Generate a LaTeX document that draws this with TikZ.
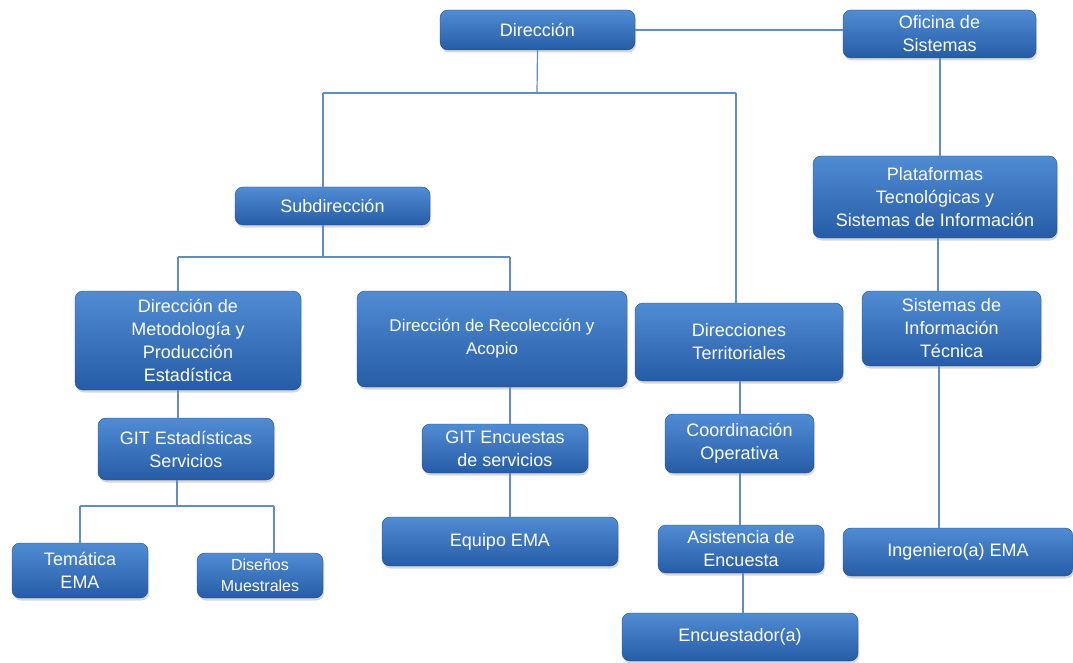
\documentclass[tikz,border=0pt]{standalone}
\usepackage{fontspec}
\setmainfont{Liberation Sans}
\usetikzlibrary{shadows,calc}
\definecolor{btop}{RGB}{80,140,212}
\definecolor{bbot}{RGB}{38,92,166}
\definecolor{lnc}{RGB}{98,140,198}
\begin{document}
\begin{tikzpicture}[x=1pt,y=-1pt,
  box/.style={rectangle, rounded corners=8pt, top color=btop, bottom color=bbot,
    draw=bbot!85!black, line width=0.4pt, text=white, align=center, inner sep=0pt,
    font=\fontsize{18}{23}\selectfont,
    drop shadow={opacity=0.3,shadow xshift=1pt,shadow yshift=-2.5pt}},
  conn/.style={draw=lnc, line width=1.2pt}]
\useasboundingbox (0,0) rectangle (1073,663);
\fill[white] (0,0) rectangle (1073,663);

% boxes
\node[box, minimum width=195pt, minimum height=40pt] (dir) at (537.5,30) {Dirección};
\node[box, minimum width=193pt, minimum height=48pt] (ofi) at (939.5,34) {Oficina de\\Sistemas};
\node[box, minimum width=195pt, minimum height=38pt] (sub) at (332.5,206) {Subdirección};
\node[box, minimum width=244pt, minimum height=82pt] (plat) at (935,197) {Plataformas\\Tecnológicas y\\Sistemas de Información};
\node[box, minimum width=226pt, minimum height=99pt] (met) at (188,340.5) {Dirección de\\Metodología y\\Producción\\Estadística};
\node[box, minimum width=270pt, minimum height=96pt, font=\fontsize{17}{23}\selectfont] (rec) at (492,339) {Dirección de Recolección y\\Acopio};
\node[box, minimum width=208pt, minimum height=78pt] (terr) at (739,342) {Direcciones\\Territoriales};
\node[box, minimum width=179pt, minimum height=75pt] (sit) at (951.5,328.5) {Sistemas de\\Información\\Técnica};
\node[box, minimum width=176pt, minimum height=62pt] (gite) at (186,449) {GIT Estadísticas\\Servicios};
\node[box, minimum width=166pt, minimum height=49pt] (gitenc) at (505,448.5) {GIT Encuestas\\de servicios};
\node[box, minimum width=149pt, minimum height=59pt] (coor) at (739.5,443.5) {Coordinación\\Operativa};
\node[box, minimum width=136pt, minimum height=55pt] (tem) at (80,570.5) {Temática\\EMA};
\node[box, minimum width=126pt, minimum height=45pt, font=\fontsize{16}{21}\selectfont] (dis) at (260,575.5) {Diseños\\Muestrales};
\node[box, minimum width=236pt, minimum height=49pt] (equ) at (500,541.5) {Equipo EMA};
\node[box, minimum width=166pt, minimum height=48pt] (asi) at (741,549) {Asistencia de\\Encuesta};
\node[box, minimum width=230pt, minimum height=48pt] (ing) at (958,552) {Ingeniero(a) EMA};
\node[box, minimum width=236pt, minimum height=48pt] (enc) at (740,637) {Encuestador(a)};

% junction coordinates
\coordinate (jd) at (537,93);
\coordinate (jdl) at (323,93);
\coordinate (jdr) at (736,93);
\coordinate (js) at (323,257);
\coordinate (jsl) at (178,257);
\coordinate (jsr) at (510,257);
\coordinate (jg) at (177,506);
\coordinate (jgl) at (80,506);
\coordinate (jgr) at (274,506);
\coordinate (xt) at (740,0);
\coordinate (xa) at (743,0);
\coordinate (xo) at (940,0);
\coordinate (xp) at (938,0);
\coordinate (xs) at (939,0);

% connectors
\draw[conn] (dir.east) -- (ofi.west |- dir.east);
\draw[conn] (dir.south) -- (jd);
\draw[conn] (jdl) -- (jdr);
\draw[conn] (jdl) -- (jdl |- sub.north);
\draw[conn] (jdr) -- (jdr |- terr.north);
\draw[conn] (sub.south -| js) -- (js);
\draw[conn] (jsl) -- (jsr);
\draw[conn] (jsl) -- (jsl |- met.north);
\draw[conn] (jsr) -- (jsr |- rec.north);
\draw[conn] (jsl |- met.south) -- (jsl |- gite.north);
\draw[conn] (gite.south -| jg) -- (jg);
\draw[conn] (jgl) -- (jgr);
\draw[conn] (jgl) -- (jgl |- tem.north);
\draw[conn] (jgr) -- (jgr |- dis.north);
\draw[conn] (rec.south -| jsr) -- (gitenc.north -| jsr);
\draw[conn] (gitenc.south -| jsr) -- (equ.north -| jsr);
\draw[conn] (terr.south -| xt) -- (coor.north -| xt);
\draw[conn] (coor.south -| xt) -- (asi.north -| xt);
\draw[conn] (asi.south -| xa) -- (enc.north -| xa);
\draw[conn] (ofi.south -| xo) -- (plat.north -| xo);
\draw[conn] (plat.south -| xp) -- (sit.north -| xp);
\draw[conn] (sit.south -| xs) -- (ing.north -| xs);
\end{tikzpicture}
\end{document}
